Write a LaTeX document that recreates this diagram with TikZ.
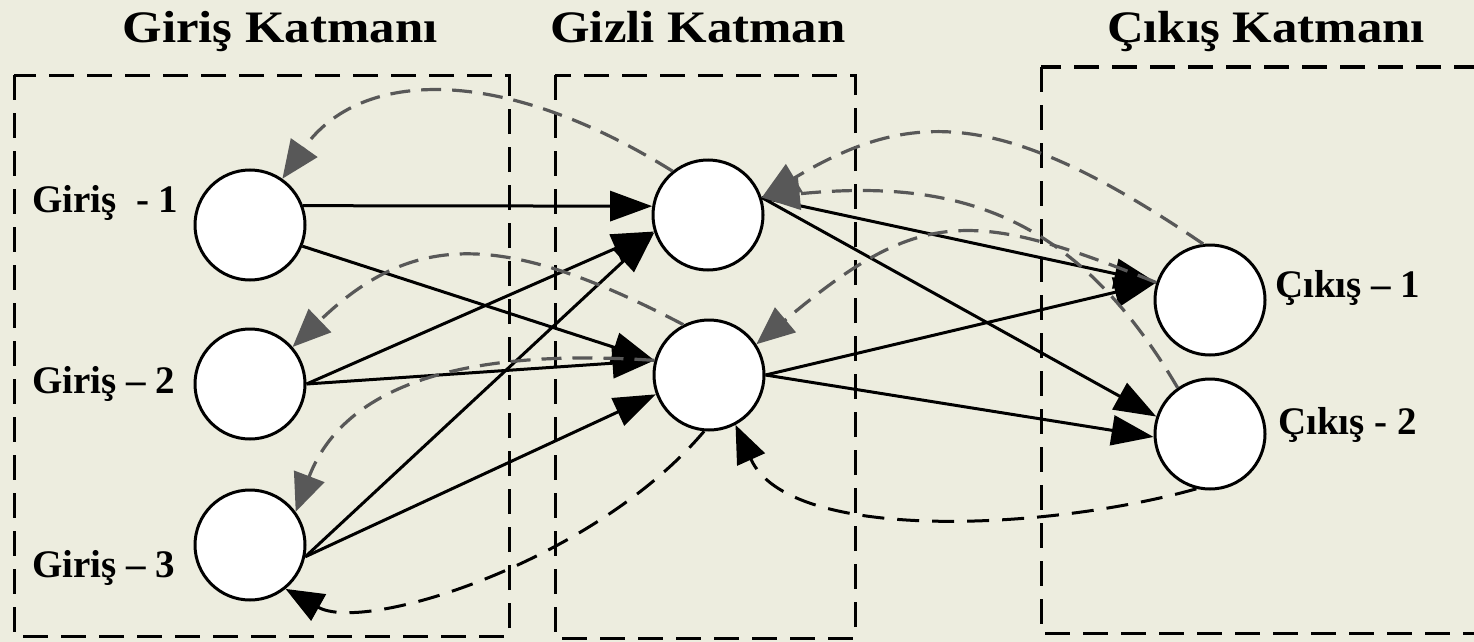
\documentclass[tikz,border=0pt]{standalone}
\usepackage{fontspec}
\setmainfont{Liberation Serif}
\usepackage{graphicx}
\usetikzlibrary{arrows.meta}
\definecolor{bg}{RGB}{237,237,223}
\definecolor{fb}{RGB}{88,88,88}
\begin{document}
\begin{tikzpicture}[x=1pt,y=-1pt,
  neuron/.style={circle,draw,line width=3pt,fill=white,minimum size=110pt,inner sep=0pt},
  fwd/.style={line width=3pt,-{Triangle[length=42pt,width=30pt]}},
  back/.style={draw=fb,line width=3.2pt,dash pattern=on 20pt off 11pt,-{Triangle[length=38pt,width=32pt]}},
  backk/.style={line width=3pt,dash pattern=on 22pt off 13pt,-{Triangle[length=38pt,width=30pt]}},
  layerbox/.style={line width=3pt,dash pattern=on 25pt off 13pt},
  title/.style={font=\fontsize{45}{50}\selectfont\bfseries,anchor=base,inner sep=0pt},
  lbl/.style={font=\fontsize{39}{44}\selectfont\bfseries,anchor=base west,inner sep=0pt}]
\useasboundingbox (0,0) rectangle (1474,642);
\fill[bg] (0,0) rectangle (1474,642);
% layer boxes
\draw[layerbox] (14,75) rectangle (509,636);
\draw[layerbox] (555,75) rectangle (855,638);
\draw[layerbox] (1041,67) rectangle (1530,633);
% titles
\node[title] (t1) at (280,42) {\scalebox{1.13}[1]{Giriş Katmanı}};
\node[title] (t2) at (698,42) {\scalebox{1.13}[1]{Gizli Katman}};
\node[title] (t3) at (1266,42) {\scalebox{1.13}[1]{Çıkış Katmanı}};
% neurons
\node[neuron] (G1) at (250,225) {};
\node[neuron] (G2) at (250,384) {};
\node[neuron] (G3) at (250,545) {};
\node[neuron] (H1) at (708,215) {};
\node[neuron] (H2) at (709,375) {};
\node[neuron] (O1) at (1210,300) {};
\node[neuron] (O2) at (1210,434) {};
% labels
\node[lbl] (l1) at (32,212) {Giriş\ \ - 1};
\node[lbl] (l2) at (32,393) {Giriş – 2};
\node[lbl] (l3) at (32,577) {Giriş – 3};
\node[lbl] (l4) at (1275,297) {Çıkış – 1};
\node[lbl] (l5) at (1278,434) {Çıkış - 2};
% forward connections
\draw[fwd] (G1.20) -- (H1.171);
\draw[fwd] (G1.-22) -- (H2.165);
\draw[fwd] (G2.0) -- (H1.197);
\draw[fwd] (G2.0) -- (H2.165);
\draw[fwd] (G3.-12) -- (H1.198);
\draw[fwd] (G3.-12) -- (H2.200);
\draw[fwd] (H1.18) -- (O1.162);
\draw[fwd] (H1.18) -- (O2.162);
\draw[fwd] (H2.0) -- (O1.162);
\draw[fwd] (H2.0) -- (O2.183);
% gray feedback arcs
\draw[back] (H1.129) .. controls +(-170,-106) and +(78,-111) .. (G1.55);
\draw[back] (H2.117) .. controls +(-180,-94) and +(120,-116) .. (G2.41);
\draw[back] (H2.165) .. controls +(-225,-15) and +(42,-110) .. (G3.36);
\draw[back] (O1.97) .. controls +(-200,-136) and +(150,-90) .. (H1.18);
\draw[back] (O2.125) .. controls +(-100,-170) and +(200,-20) .. (H1.18);
\draw[back] (O1.162) .. controls +(-186,-75) and +(162,-136) .. (H2.33);
% black dashed arcs
\draw[backk] (H2.265) .. controls +(-110,130) and +(80,45) .. (G3.-51);
\draw[backk] (O2.256) .. controls +(-150,42) and +(53,118) .. (H2.298);
\end{tikzpicture}
\end{document}
